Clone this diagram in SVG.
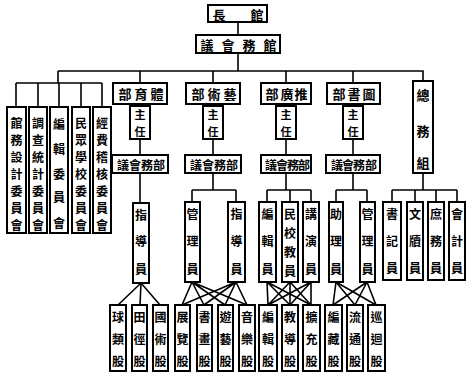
<svg xmlns="http://www.w3.org/2000/svg" width="472" height="381" viewBox="0 0 472 381">
<style>
rect{fill:#fff;stroke:#000;stroke-width:2}
.c line,.c path{stroke:#000;stroke-width:1.6;fill:none}
text{font-family:"Noto Sans CJK TC","Noto Sans CJK SC",sans-serif;font-weight:bold;font-size:12px;fill:#000;text-anchor:middle;dominant-baseline:central}
.h{font-size:13px}
.z{font-size:11px}
</style>
<rect x="0" y="0" width="472" height="381" style="stroke:none;fill:#fff"/>
<g class="c" id="connectors">
<path d="M238 22V35M238 53V71M58 71H423V81M58 71V83M16 83H102M16 83V107M38 83V107M59 83V107M81 83V107M102 83V107"/>
<path d="M140 71V83M213 71V83M286 71V83M353 71V83"/>
<path d="M140 104V106M140 139V155M213 104V106M213 139V155M286 104V106M286 139V155M353 104V106M353 139V155"/>
<path d="M140 173V203M213 173V190M192 190H236M192 190V202M236 190V202"/>
<path d="M286 173V190M267 190H311M267 190V202M290 190V202M311 190V202"/>
<path d="M353 173V190M336 190H367M336 190V202M367 190V202"/>
<path d="M423 173V190M392 190H457M392 190V202M415 190V202M436 190V202M457 190V202"/>
<path d="M141 283L118 305M141 283L140 305M141 283L160 305"/>
<path d="M192 282L182 305M192 282L204 305M192 282L225 305M192 282L247 305M236 282L182 305M236 282L204 305M236 282L225 305M236 282L247 305"/>
<path d="M267 282L268 305M267 282L290 305M267 282L311 305M290 282L268 305M290 282L290 305M290 282L311 305M311 282L268 305M311 282L290 305M311 282L311 305"/>
<path d="M336 282L333 305M336 282L355 305M336 282L376 305M367 282L333 305M367 282L355 305M367 282L376 305"/>
</g>
<g id="n-guanzhang"><rect x="208" y="5" width="59" height="17"/><text class="h" x="219" y="14">長</text><text class="h" x="257" y="14">館</text></g>
<g id="n-guanwu"><rect x="196" y="35" width="84" height="18"/><text class="h" x="207" y="44">議</text><text class="h" x="228" y="44">會</text><text class="h" x="249" y="44">務</text><text class="h" x="270" y="44">館</text></g>
<g id="n-com1"><rect x="7" y="107" width="19" height="126"/><text x="16.5" y="122">館</text><text x="16.5" y="139">務</text><text x="16.5" y="156">設</text><text x="16.5" y="173">計</text><text x="16.5" y="190">委</text><text x="16.5" y="207">員</text><text x="16.5" y="224">會</text></g>
<g id="n-com2"><rect x="29" y="107" width="18" height="126"/><text x="38" y="122">調</text><text x="38" y="139">查</text><text x="38" y="156">統</text><text x="38" y="173">計</text><text x="38" y="190">委</text><text x="38" y="207">員</text><text x="38" y="224">會</text></g>
<g id="n-com3"><rect x="50" y="107" width="18" height="126"/><text x="59" y="123">編</text><text x="59" y="148">輯</text><text x="59" y="173">委</text><text x="59" y="196">員</text><text x="59" y="222">會</text></g>
<g id="n-com4"><rect x="72" y="107" width="18" height="126"/><text x="81" y="122">民</text><text x="81" y="139">眾</text><text x="81" y="156">學</text><text x="81" y="173">校</text><text x="81" y="190">委</text><text x="81" y="207">員</text><text x="81" y="224">會</text></g>
<g id="n-com5"><rect x="93" y="107" width="18" height="126"/><text x="102" y="122">經</text><text x="102" y="139">費</text><text x="102" y="156">稽</text><text x="102" y="173">核</text><text x="102" y="190">委</text><text x="102" y="207">員</text><text x="102" y="224">會</text></g>
<g id="n-tiyu"><rect x="113" y="83" width="54" height="21"/><text class="h" x="125" y="93.5">部</text><text class="h" x="141" y="93.5">育</text><text class="h" x="157" y="93.5">體</text>
<rect x="130" y="106" width="20" height="33"/><text class="z" x="140" y="114">主</text><text class="z" x="140" y="131">任</text>
<rect x="112" y="155" width="56" height="18"/><text x="123" y="164">議</text><text x="135" y="164">會</text><text x="147" y="164">務</text><text x="159" y="164">部</text></g>
<g id="n-yishu"><rect x="186" y="83" width="54" height="21"/><text class="h" x="198" y="93.5">部</text><text class="h" x="214" y="93.5">術</text><text class="h" x="230" y="93.5">藝</text>
<rect x="203" y="106" width="20" height="33"/><text class="z" x="213" y="114">主</text><text class="z" x="213" y="131">任</text>
<rect x="185" y="155" width="56" height="18"/><text x="196" y="164">議</text><text x="208" y="164">會</text><text x="220" y="164">務</text><text x="232" y="164">部</text></g>
<g id="n-tuiguang"><rect x="261" y="83" width="50" height="21"/><text class="h" x="272" y="93.5">部</text><text class="h" x="287" y="93.5">廣</text><text class="h" x="301" y="93.5">推</text>
<rect x="276" y="106" width="20" height="33"/><text class="z" x="286" y="114">主</text><text class="z" x="286" y="131">任</text>
<rect x="261" y="155" width="50" height="18"/><text x="271" y="164">議</text><text x="282" y="164">會</text><text x="293" y="164">務</text><text x="304" y="164">部</text></g>
<g id="n-tushu"><rect x="327" y="83" width="53" height="21"/><text class="h" x="339" y="93.5">部</text><text class="h" x="354" y="93.5">書</text><text class="h" x="369" y="93.5">圖</text>
<rect x="343" y="106" width="20" height="33"/><text class="z" x="353" y="114">主</text><text class="z" x="353" y="131">任</text>
<rect x="326" y="155" width="54" height="18"/><text x="337" y="164">議</text><text x="348" y="164">會</text><text x="359" y="164">務</text><text x="371" y="164">部</text></g>
<g id="n-zongwu"><rect x="413" y="81" width="20" height="92"/><text class="h" x="423" y="94">總</text><text class="h" x="423" y="130">務</text><text class="h" x="423" y="162">組</text></g>
<g id="s-tiyu-zhidao"><rect x="133" y="203" width="16" height="80"/><text x="141" y="214">指</text><text x="141" y="240">導</text><text x="141" y="268">員</text></g>
<g id="s-yishu-guanli"><rect x="185" y="202" width="15" height="80"/><text x="192.5" y="213">管</text><text x="192.5" y="240">理</text><text x="192.5" y="268">員</text></g>
<g id="s-yishu-zhidao"><rect x="228" y="202" width="17" height="80"/><text x="236.5" y="213">指</text><text x="236.5" y="240">導</text><text x="236.5" y="268">員</text></g>
<g id="s-bianji"><rect x="259" y="202" width="17" height="80"/><text x="267.5" y="213">編</text><text x="267.5" y="240">輯</text><text x="267.5" y="268">員</text></g>
<g id="s-minjiao"><rect x="282" y="202" width="16" height="80"/><text x="290" y="213">民</text><text x="290" y="232">校</text><text x="290" y="251">教</text><text x="290" y="270">員</text></g>
<g id="s-jiangyan"><rect x="303" y="202" width="16" height="80"/><text x="311" y="213">講</text><text x="311" y="240">演</text><text x="311" y="268">員</text></g>
<g id="s-zhuli"><rect x="329" y="202" width="14" height="80"/><text x="336" y="213">助</text><text x="336" y="240">理</text><text x="336" y="268">員</text></g>
<g id="s-tushu-guanli"><rect x="360" y="202" width="15" height="80"/><text x="367.5" y="213">管</text><text x="367.5" y="240">理</text><text x="367.5" y="268">員</text></g>
<g id="s-shuji"><rect x="383" y="202" width="18" height="78"/><text x="392" y="213">書</text><text x="392" y="240">記</text><text x="392" y="267">員</text></g>
<g id="s-wendu"><rect x="407" y="202" width="16" height="78"/><text x="415" y="213">文</text><text x="415" y="240">牘</text><text x="415" y="267">員</text></g>
<g id="s-shuwu"><rect x="428" y="202" width="16" height="78"/><text x="436" y="213">庶</text><text x="436" y="240">務</text><text x="436" y="267">員</text></g>
<g id="s-kuaiji"><rect x="449" y="202" width="16" height="78"/><text x="457" y="213">會</text><text x="457" y="240">計</text><text x="457" y="267">員</text></g>
<g id="b1"><rect x="110" y="305" width="16" height="66"/><text x="118" y="316">球</text><text x="118" y="338">類</text><text x="118" y="360">股</text></g>
<g id="b2"><rect x="132" y="305" width="15" height="66"/><text x="139.5" y="316">田</text><text x="139.5" y="338">徑</text><text x="139.5" y="360">股</text></g>
<g id="b3"><rect x="153" y="305" width="15" height="66"/><text x="160.5" y="316">國</text><text x="160.5" y="338">術</text><text x="160.5" y="360">股</text></g>
<g id="b4"><rect x="175" y="305" width="15" height="66"/><text x="182.5" y="316">展</text><text x="182.5" y="338">覽</text><text x="182.5" y="360">股</text></g>
<g id="b5"><rect x="197" y="305" width="15" height="66"/><text x="204.5" y="316">書</text><text x="204.5" y="338">畫</text><text x="204.5" y="360">股</text></g>
<g id="b6"><rect x="218" y="305" width="15" height="66"/><text x="225.5" y="316">遊</text><text x="225.5" y="338">藝</text><text x="225.5" y="360">股</text></g>
<g id="b7"><rect x="239" y="305" width="16" height="66"/><text x="247" y="316">音</text><text x="247" y="338">樂</text><text x="247" y="360">股</text></g>
<g id="b8"><rect x="259" y="305" width="18" height="66"/><text x="268" y="316">編</text><text x="268" y="338">輯</text><text x="268" y="360">股</text></g>
<g id="b9"><rect x="282" y="305" width="16" height="66"/><text x="290" y="316">教</text><text x="290" y="338">導</text><text x="290" y="360">股</text></g>
<g id="b10"><rect x="303" y="305" width="17" height="66"/><text x="311.5" y="316">擴</text><text x="311.5" y="338">充</text><text x="311.5" y="360">股</text></g>
<g id="b11"><rect x="325" y="305" width="17" height="66"/><text x="333.5" y="316">編</text><text x="333.5" y="338">藏</text><text x="333.5" y="360">股</text></g>
<g id="b12"><rect x="347" y="305" width="16" height="66"/><text x="355" y="316">流</text><text x="355" y="338">通</text><text x="355" y="360">股</text></g>
<g id="b13"><rect x="368" y="305" width="17" height="66"/><text x="376.5" y="316">巡</text><text x="376.5" y="338">迴</text><text x="376.5" y="360">股</text></g>
</svg>
